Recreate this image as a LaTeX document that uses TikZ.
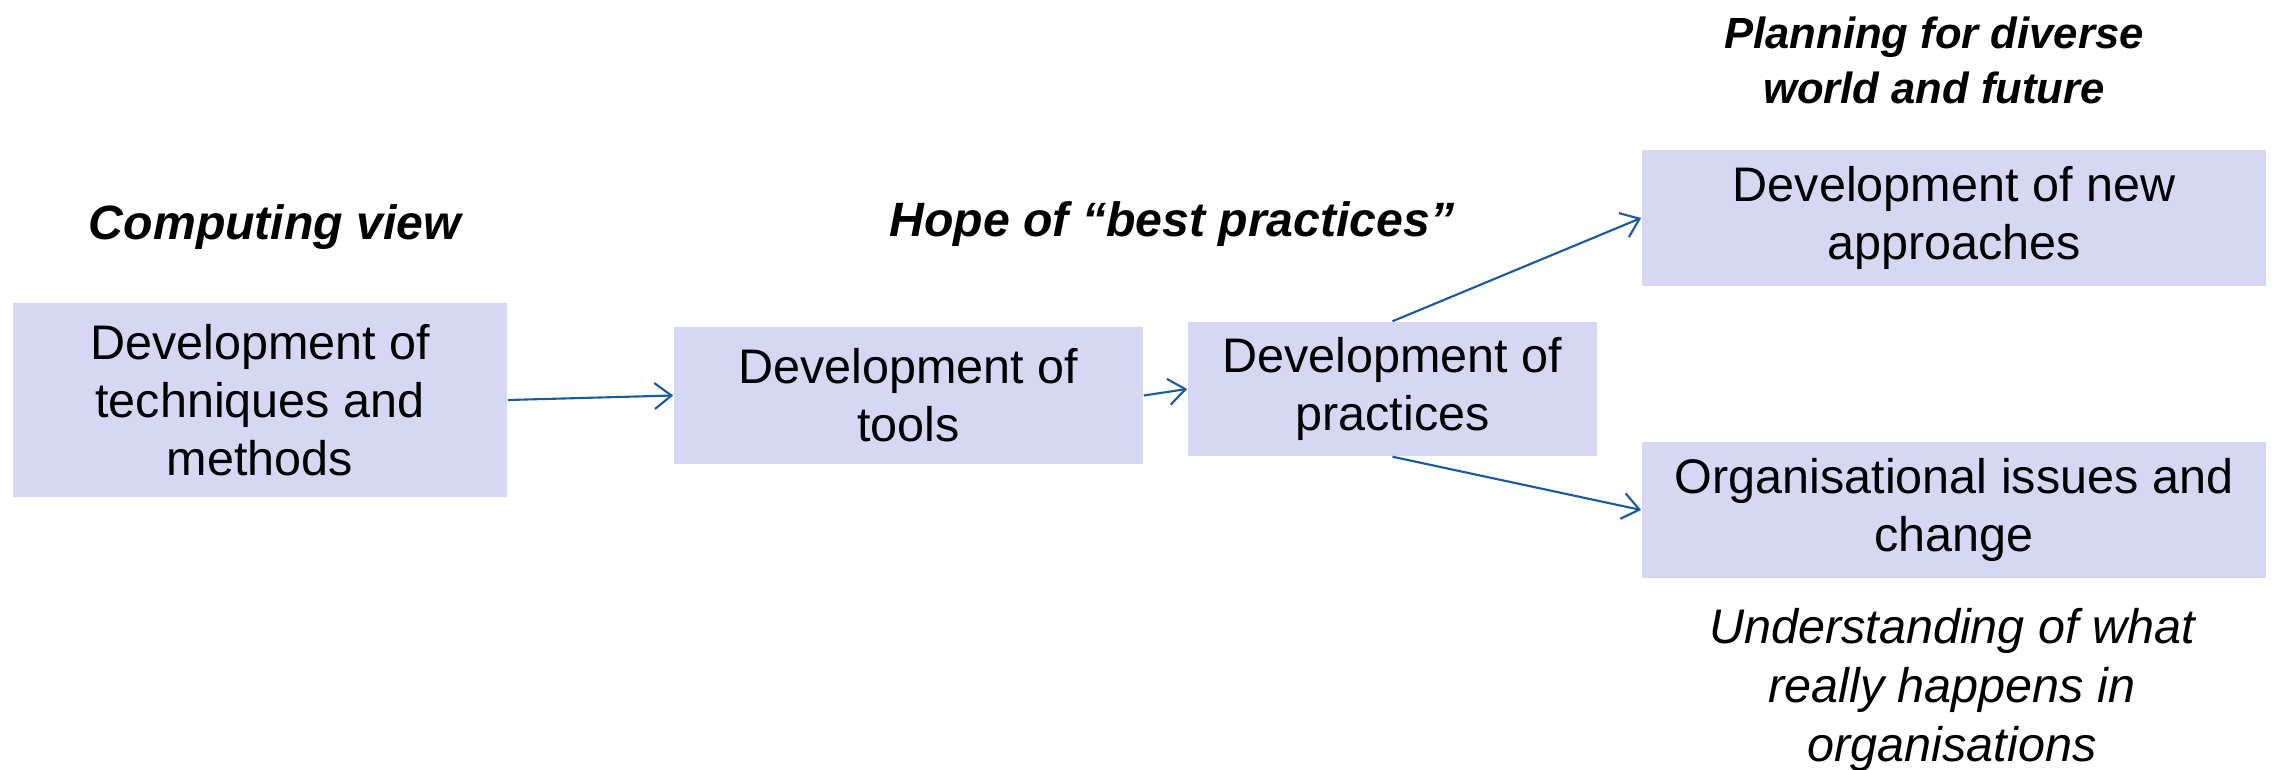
\documentclass[tikz,border=0pt]{standalone}
\usepackage{fontspec}
\setmainfont{Liberation Sans}
\usepackage{xcolor}
\usetikzlibrary{arrows.meta}
\definecolor{boxfill}{HTML}{D6D7F3}
\definecolor{arrowblue}{HTML}{1A5A9E}

\begin{document}
\begin{tikzpicture}[x=0.01cm,y=-0.01cm,
  stage/.style={fill=boxfill,inner sep=0pt,align=center,font=\fontsize{13.8}{16.5}\selectfont},
  heading/.style={align=center,font=\fontsize{13.7}{15.6}\selectfont\bfseries\itshape},
  note/.style={align=center,font=\fontsize{13.8}{16.7}\selectfont\itshape},
  flow/.style={draw=arrowblue,line width=0.6pt,-{Straight Barb[length=4.8pt,width=7.4pt]}}]
\useasboundingbox (0,0) rectangle (2272,770);
\node[stage,minimum width=4.94cm,minimum height=1.94cm] (techniques) at (260,400) {Development of\\techniques and\\methods};
\node[stage,minimum width=4.69cm,minimum height=1.36cm] (tools) at (908.5,395.5) {Development of\\tools};
\node[stage,minimum width=4.09cm,minimum height=1.34cm] (practices) at (1392.5,389) {Development of\\practices};
\node[stage,minimum width=6.24cm,minimum height=1.36cm] (approaches) at (1954,218) {Development of new\\approaches};
\node[stage,minimum width=6.24cm,minimum height=1.36cm] (organisation) at (1954,510) {Organisational issues and\\change};
\node[heading] (computing) at (275,227) {Computing view};
\node[heading] (hope) at (1172,224) {Hope of “best practices”};
\node[heading,font=\fontsize{12.4}{15.6}\selectfont\bfseries\itshape] (planning) at (1934,60) {Planning for diverse\\world and future};
\node[note] (understanding) at (1952,690) {Understanding of what\\really happens in\\organisations};
\foreach \a/\b in {techniques.east/tools.west, tools.east/practices.west, practices.north/approaches.west, practices.south/organisation.west}
  \draw[flow] (\a) -- (\b);
\end{tikzpicture}
\end{document}
